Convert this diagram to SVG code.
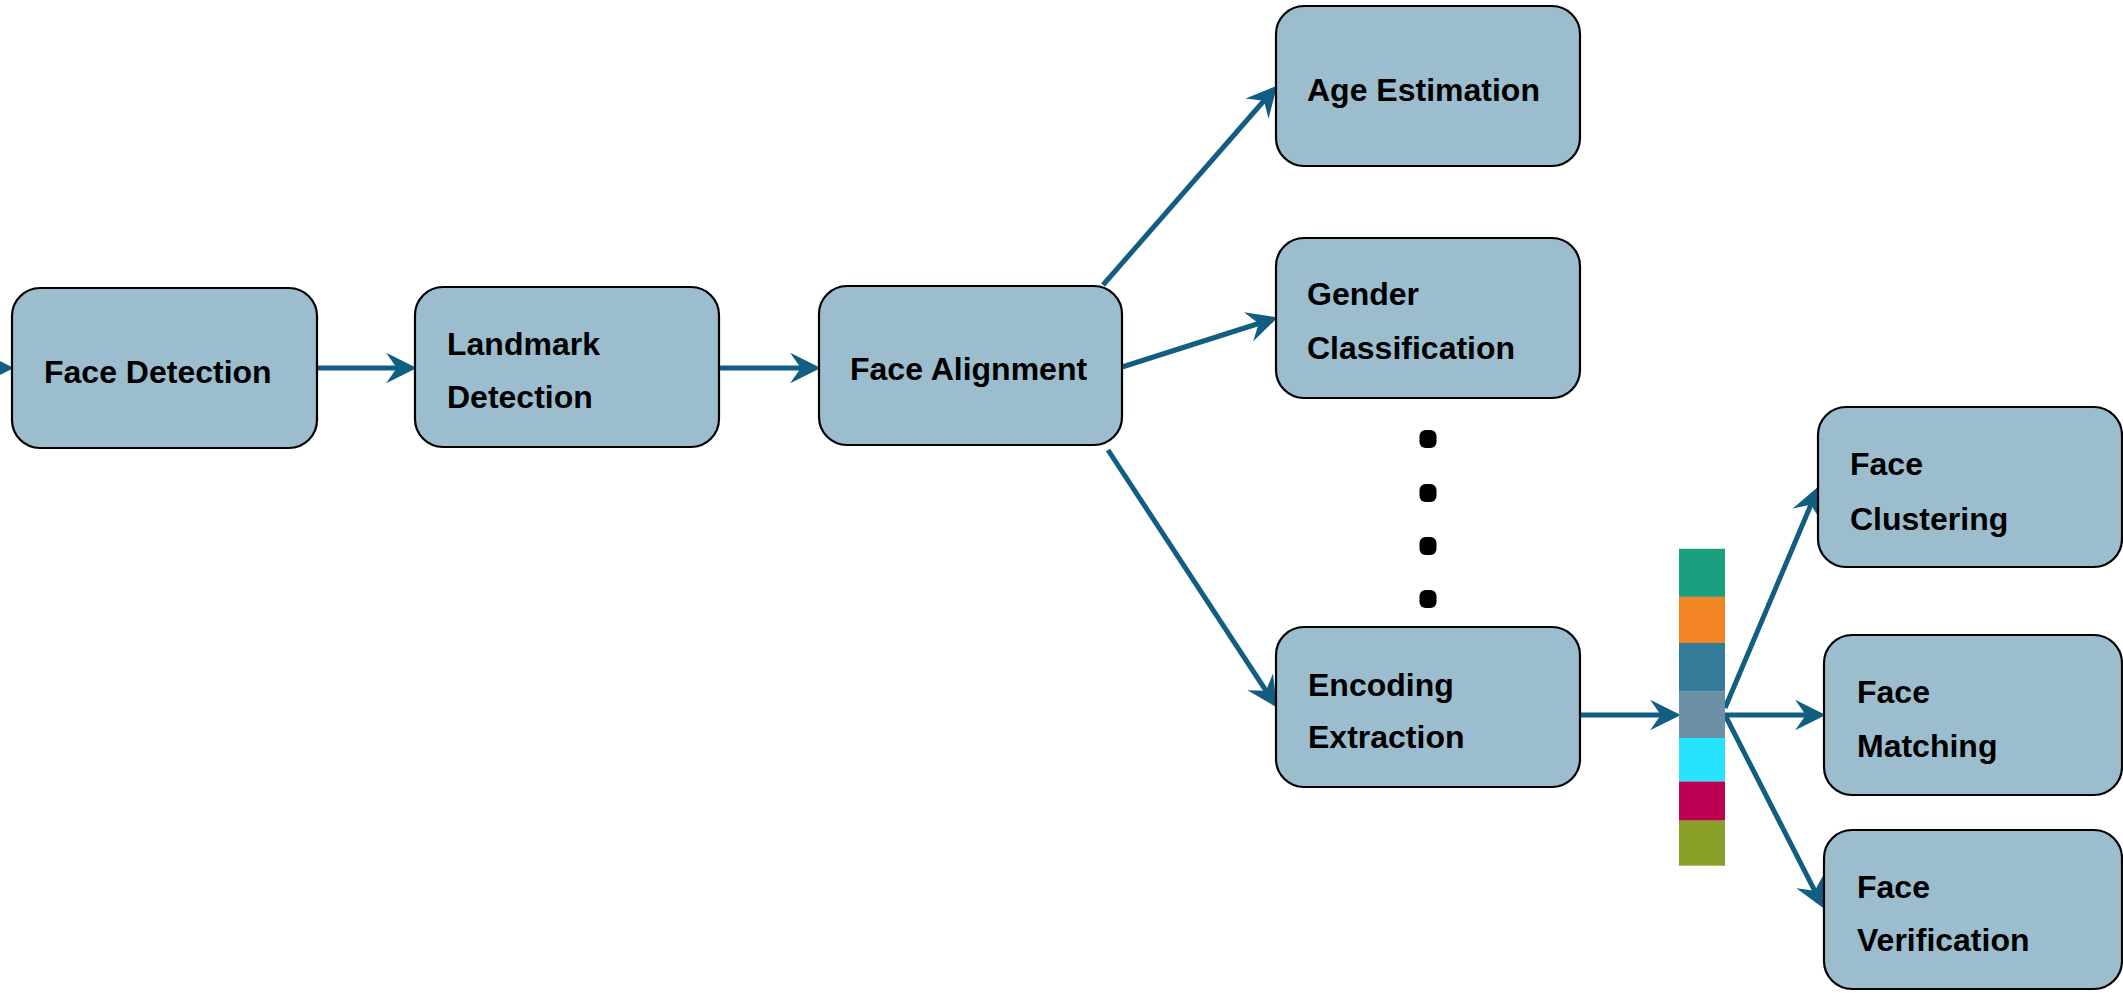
<svg xmlns="http://www.w3.org/2000/svg" width="2123" height="993" viewBox="0 0 2123 993">
  <style>
    .box { fill: #9bbdce; stroke: #000; stroke-width: 2.2; }
    .lbl { font-family: "Liberation Sans", Arial, sans-serif; font-weight: bold; font-size: 32px; fill: #000; }
    .link { stroke: #125e82; stroke-width: 5; fill: none; marker-end: url(#arrow); }
    .dot { fill: #000; }
  </style>
  <defs>
    <marker id="arrow" markerUnits="userSpaceOnUse" markerWidth="40" markerHeight="40" viewBox="-20 -15 34 30" refX="0" refY="0" orient="auto" overflow="visible">
      <path d="M10,0 L-16,-13 L-7,0 L-16,13 Z" fill="#125e82"/>
    </marker>
  </defs>
  <rect width="2123" height="993" fill="#fff"/>

  <!-- connectors -->
  <g id="connectors">
    <line class="link" x1="-30" y1="368" x2="2" y2="368"/>
    <line class="link" x1="317" y1="368" x2="405" y2="368"/>
    <line class="link" x1="719" y1="368" x2="809" y2="368"/>
    <line class="link" x1="1103" y1="285" x2="1269.4" y2="94.5"/>
    <line class="link" x1="1122" y1="367" x2="1266.5" y2="321"/>
    <line class="link" x1="1108" y1="450" x2="1270.5" y2="697.6"/>
    <line class="link" x1="1580" y1="715" x2="1669" y2="715"/>
    <line class="link" x1="1725" y1="708" x2="1814.1" y2="497.2"/>
    <line class="link" x1="1725" y1="715" x2="1814" y2="715"/>
    <line class="link" x1="1725" y1="715" x2="1818.5" y2="898.1"/>
  </g>

  <g id="face-detection">
    <rect class="box" x="12" y="288" width="305" height="160" rx="28"/>
    <text class="lbl" x="44" y="383">Face Detection</text>
  </g>
  <g id="landmark-detection">
    <rect class="box" x="415" y="287" width="304" height="160" rx="28"/>
    <text class="lbl" x="447" y="355">Landmark</text>
    <text class="lbl" x="447" y="408">Detection</text>
  </g>
  <g id="face-alignment">
    <rect class="box" x="819" y="286" width="303" height="159" rx="28"/>
    <text class="lbl" x="850" y="380">Face Alignment</text>
  </g>
  <g id="age-estimation">
    <rect class="box" x="1276" y="6" width="304" height="160" rx="28"/>
    <text class="lbl" x="1307" y="101">Age Estimation</text>
  </g>
  <g id="gender-classification">
    <rect class="box" x="1276" y="238" width="304" height="160" rx="28"/>
    <text class="lbl" x="1307" y="305">Gender</text>
    <text class="lbl" x="1307" y="359">Classification</text>
  </g>
  <g id="ellipsis">
    <rect class="dot" x="1419.5" y="430" width="17" height="18" rx="6"/>
    <rect class="dot" x="1419.5" y="484" width="17" height="18" rx="6"/>
    <rect class="dot" x="1419.5" y="537" width="17" height="18" rx="6"/>
    <rect class="dot" x="1419.5" y="590" width="17" height="18" rx="6"/>
  </g>
  <g id="encoding-extraction">
    <rect class="box" x="1276" y="627" width="304" height="160" rx="28"/>
    <text class="lbl" x="1308" y="696">Encoding</text>
    <text class="lbl" x="1308" y="748">Extraction</text>
  </g>
  <g id="embedding-vector">
    <rect x="1679" y="548.8" width="46" height="48.1" fill="#1a9e7d"/>
    <rect x="1679" y="596.9" width="46" height="46.1" fill="#f38424"/>
    <rect x="1679" y="643" width="46" height="48.1" fill="#327b99"/>
    <rect x="1679" y="691.1" width="46" height="46.9" fill="#6c8fa5"/>
    <rect x="1679" y="738" width="46" height="43.5" fill="#26e3ff"/>
    <rect x="1679" y="781.5" width="46" height="39.2" fill="#bc0052"/>
    <rect x="1679" y="820.7" width="46" height="45" fill="#88a028"/>
  </g>
  <g id="face-clustering">
    <rect class="box" x="1818" y="407" width="304" height="160" rx="28"/>
    <text class="lbl" x="1850" y="475">Face</text>
    <text class="lbl" x="1850" y="530">Clustering</text>
  </g>
  <g id="face-matching">
    <rect class="box" x="1824" y="635" width="298" height="160" rx="28"/>
    <text class="lbl" x="1857" y="703">Face</text>
    <text class="lbl" x="1857" y="757">Matching</text>
  </g>
  <g id="face-verification">
    <rect class="box" x="1824" y="830" width="298" height="159" rx="28"/>
    <text class="lbl" x="1857" y="898">Face</text>
    <text class="lbl" x="1857" y="951">Verification</text>
  </g>
</svg>
